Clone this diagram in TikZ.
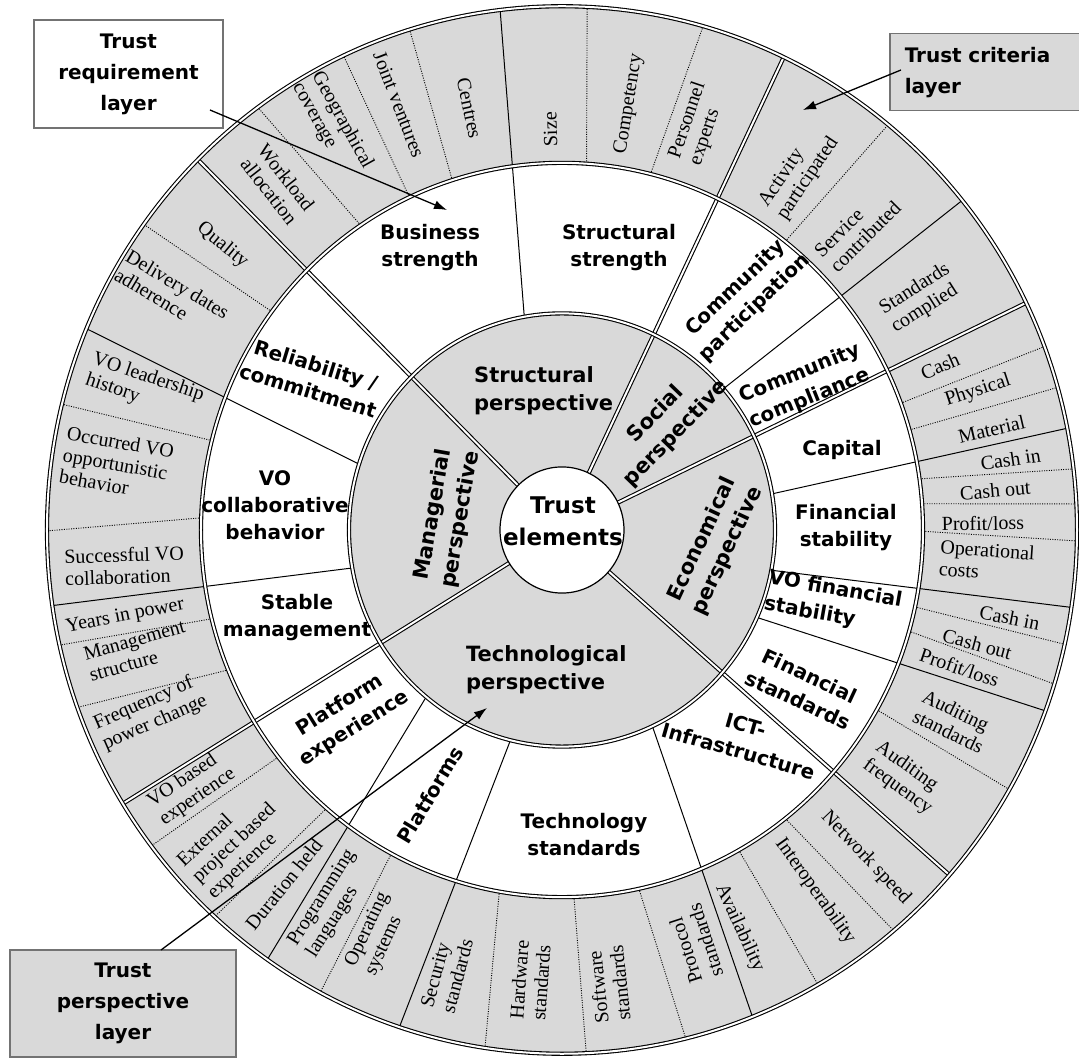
\documentclass[tikz,border=0pt]{standalone}
\usepackage{fontspec}
\setmainfont{Liberation Serif}
\newfontfamily\labfont{DejaVu Sans}
\usetikzlibrary{arrows.meta}
\definecolor{fillg}{gray}{0.85}
\newcommand\critnode[5]{\node[crit,rotate=#4] (#1) at (#2:#3) {#5};}
\begin{document}
\begin{tikzpicture}[x=1pt,y=1pt,
  dbl/.style={draw=black, line width=1.1pt, double=white, double distance=2pt},
  reqline/.style={draw=black, line width=1pt},
  dotline/.style={draw=black, line width=0.9pt, dash pattern=on 1pt off 1.4pt},
  crit/.style={font=\fontsize{20}{22}\selectfont, align=left, inner sep=0pt},
  req/.style={font=\labfont\bfseries\fontsize{20}{27}\selectfont, align=center, inner sep=0pt},
  persp/.style={font=\labfont\bfseries\fontsize{21}{28}\selectfont, align=center, inner sep=0pt},
  trustf/.style={font=\labfont\bfseries\fontsize{23}{32}\selectfont, align=center, inner sep=0pt},
  boxw/.style={draw=black!55, line width=1.5pt, fill=white, font=\labfont\bfseries\fontsize{20}{31}\selectfont, align=center},
  boxg/.style={draw=black!55, line width=1.5pt, fill=fillg, font=\labfont\bfseries\fontsize{20}{31}\selectfont, align=center},
  arr/.style={draw=black, line width=1.3pt, -{Latex[length=13pt,width=9pt]}}]
\useasboundingbox (-562,-529) rectangle (517,530);
\fill[white] (-562,-529) rectangle (517,530);
\begin{scope}[yscale=1.017]
  \fill[fillg] (0,0) circle (515);
  \fill[white] (0,0) circle (361);
  \fill[fillg] (0,0) circle (213);
  \fill[white] (0,0) circle (62);
  % criteria separators (dotted)
  \foreach \a/\b in {86.1/87.2, 75.8/74.1, 107.7/107.2, 115/115.1, 123.9/126.2,
      143.5/144.3, 165.9/166.1, 178.1/180.1, 194/192.7, 202.4/199.8,
      218.2/217.1, 229.3/227.6, 241.8/242, 260/261.4, 271.9/272.7, 282.3/283.9,
      299.3/299.8, 308.2/310.1, -29.3/-29.7, -12.1/-12.6, -16/-17.1,
      8/6.7, 4.1/2.85, -0.2/-1.2, 15.8/15.8, 20.2/20.5, 51.8/50.7}
    \draw[dotline] (\a:361) -- (\b:515);
  % requirement separators
  \foreach \a/\b in {100.2/96.9, 40.7/39, 9.6/11.2, -10.7/-8.5, -23.8/-20.2,
      295.1/291.7, 256/251.6, 230.4/235.1, 190.1/188.3, 162.3/157.4}
    \draw[reqline] (\a:213) -- (\b:515);
  % perspective separators
  \foreach \a in {135, 64.5, 25.7, -41.2, 211.5}
    \draw[dbl] (\a:62) -- (\a:515);
  \draw[dbl] (0,0) circle (515);
  \draw[dbl] (0,0) circle (361);
  \draw[dbl] (0,0) circle (213);
  \draw[line width=1.2pt] (0,0) circle (62);
  % criteria texts
  \critnode{cSize}{91.7}{394}{91.7}{Size}
  \critnode{cComp}{80.9}{424}{80.9}{Competency}
  \critnode{cPers}{71.2}{422}{71.2}{Personnel\\experts}
  \critnode{cAct}{56}{424}{56}{Activity\\participated}
  \critnode{cServ}{45}{418}{45}{Service\\contributed}
  \critnode{cStdc}{32.4}{425}{32.4}{Standards\\complied}
  \critnode{cCash}{23.1}{411}{23.1}{Cash}
  \critnode{cPhys}{18.2}{438}{18.2}{Physical}
  \critnode{cMat}{13}{441}{13}{Material}
  \critnode{cCinA}{8.8}{454}{8.8}{Cash in}
  \critnode{cCoutA}{5.1}{435}{5.1}{Cash out}
  \critnode{cPLA}{0.9}{421}{0.9}{Profit/loss}
  \critnode{cOpc}{-4.1}{426}{-4.1}{Operational\\costs}
  \critnode{cCinB}{-10.9}{456}{-10.9}{Cash in}
  \critnode{cCoutB}{-15.1}{430}{-15.1}{Cash out}
  \critnode{cPLB}{-18.8}{420}{-18.8}{Profit/loss}
  \critnode{cAudS}{-25.7}{434}{-25.7}{Auditing\\standards}
  \critnode{cAudF}{-35.5}{420}{-35.5}{Auditing\\frequency}
  \critnode{cNet}{-46.7}{443}{-46.7}{Network speed}
  \critnode{cInt}{-54.5}{436}{-54.5}{Interoperability}
  \critnode{cAva}{-65.6}{430}{-65.6}{Availability}
  \critnode{cProt}{288.1}{428}{108.1}{Protocol\\standards}
  \critnode{cSoft}{276}{449}{96}{Software\\standards}
  \critnode{cHard}{265.9}{444}{85.9}{Hardware\\standards}
  \critnode{cSec}{255.2}{451}{75.2}{Security\\standards}
  \critnode{cOS}{245.1}{438}{65.1}{Operating\\systems}
  \critnode{cProg}{237.9}{434}{57.9}{Programming\\languages}
  \critnode{cDur}{231.4}{446}{51.4}{Duration held}
  \critnode{cExt}{223.3}{450}{43.3}{External\\project based\\experience}
  \critnode{cVOb}{214.4}{449}{34.4}{VO based\\experience}
  \critnode{cFreq}{203.6}{449}{23.6}{Frequency of\\power change}
  \critnode{cMgmt}{195.6}{441}{15.6}{Management\\structure}
  \critnode{cYrs}{191}{445}{11}{Years in power}
  \critnode{cSucc}{184.6}{439}{2}{Successful VO\\collaboration}
  \critnode{cOcc}{171.7}{450}{-10}{Occurred VO\\opportunistic\\behavior}
  \critnode{cLead}{161.5}{440}{-18.5}{VO leadership\\history}
  \critnode{cDel}{149.2}{454}{-30.8}{Delivery dates\\adherence}
  \critnode{cQual}{140.5}{440}{-39.5}{Quality}
  \critnode{cWork}{129.9}{443}{-52}{Workload\\allocation}
  \critnode{cGeo}{120}{459}{-61}{Geographical\\coverage}
  \critnode{cJoint}{111.3}{449}{-69}{Joint ventures}
  \critnode{cCent}{102.6}{425}{-78}{Centres}
\end{scope}
% requirement labels
\node[req] (rBus) at (-132,282) {Business\\strength};
\node[req] (rStr) at (57,282) {Structural\\strength};
\node[req, rotate=44] (rCP) at (183,232) {Community\\participation};
\node[req, rotate=22] (rCC) at (243,144) {Community\\compliance};
\node[req] (rCap) at (280,80) {Capital};
\node[req] (rFS) at (284,2) {Financial\\stability};
\node[req, rotate=-10, align=left] (rVOFS) at (271,-73) {VO financial\\stability};
\node[req, rotate=-25] (rFSt) at (242,-158) {Financial\\standards};
\node[req, rotate=-16] (rICT) at (180,-208) {ICT-\\Infrastructure};
\node[req] (rTS) at (22,-305) {Technology\\standards};
\node[req, rotate=59] (rPl) at (-132,-265) {Platforms};
\node[req, rotate=32] (rPE) at (-215,-187) {Platform\\experience};
\node[req] (rSM) at (-265,-88) {Stable\\management};
\node[req] (rVOC) at (-287,25) {VO\\collaborative\\behavior};
\node[req, rotate=-17] (rRel) at (-250,152) {Reliability /\\commitment};
% perspective labels
\node[persp, anchor=west, align=left] (pStr) at (-88,139) {Structural\\perspective};
\node[persp, anchor=west, align=left] (pTech) at (-96,-140) {Technological\\perspective};
\node[persp, rotate=46] (pSoc) at (104,106) {Social\\perspective};
\node[persp, rotate=65] (pEco) at (153,-15) {Economical\\perspective};
\node[persp, rotate=80] (pMan) at (-115,13) {Managerial\\perspective};
\node[trustf] (te) at (1,9) {Trust\\elements};
% callouts
\node[boxw, minimum width=189, minimum height=108, inner sep=0pt] (trl) at (-433.5,456) {Trust\\requirement\\layer};
\node[boxg, anchor=north west, text width=180, inner xsep=15, align=left, minimum height=77] (tcl) at (327,497) {Trust criteria\\layer};
\node[boxg, minimum width=226, minimum height=107, inner sep=0pt] (tpl) at (-439,-473.5) {Trust\\perspective\\layer};
\coordinate (trlA) at (-352,420);
\coordinate (trlB) at (-115,320);
\coordinate (tclA) at (339,460);
\coordinate (tclB) at (241,420);
\coordinate (tplA) at (-401,-420);
\coordinate (tplB) at (-75,-178);
\draw[arr] (trlA) -- (trlB);
\draw[arr] (tclA) -- (tclB);
\draw[arr] (tplA) -- (tplB);
\end{tikzpicture}
\end{document}
